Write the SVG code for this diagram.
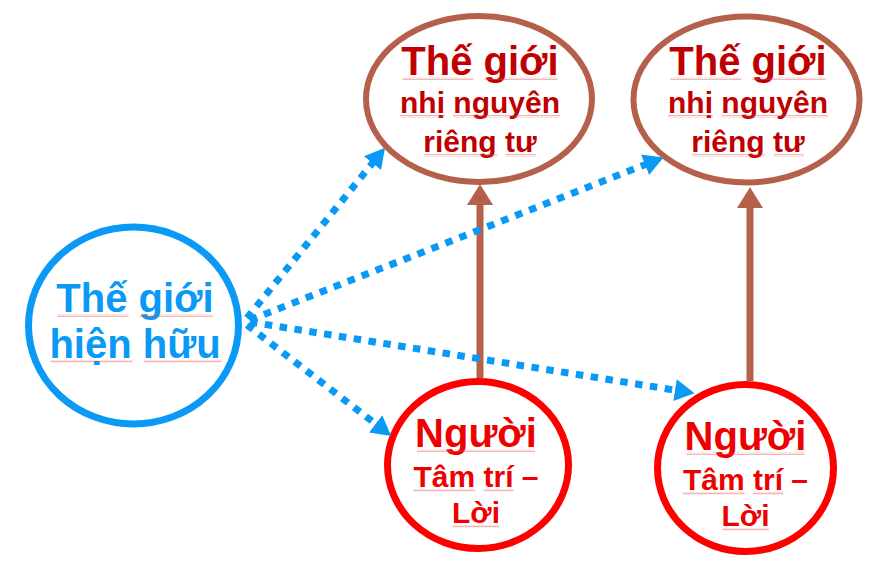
<svg xmlns="http://www.w3.org/2000/svg" width="875" height="577" viewBox="0 0 875 577">
<style>
.t{font-family:"Liberation Sans",Arial,sans-serif;font-weight:bold;text-anchor:middle}
.big{font-size:40px}
.sm{font-size:30px}
.blue{fill:#0A9AF5}
.dred{fill:#C00000}
.red{fill:#EE0000}
.sq{fill:url(#squig);opacity:0.75}
.dot{fill:none;stroke:#0A9AF5;stroke-width:7;stroke-dasharray:7.5 7.5;marker-end:url(#ah-blue)}
.solid{fill:none;stroke:#B5604B;stroke-width:7;marker-end:url(#ah-brown)}
</style>
<defs>
<pattern id="squig" patternUnits="userSpaceOnUse" width="4" height="3">
<path d="M0,2.4 L1,0.6 L2,2.4 L3,0.6 L4,2.4" fill="none" stroke="#E84848" stroke-width="0.55"/>
</pattern>
<marker id="ah-blue" markerUnits="userSpaceOnUse" markerWidth="20" markerHeight="22" refX="2" refY="10" orient="auto" viewBox="0 0 18 20">
<path d="M0,0 L18,10 L0,20 z" fill="#0A9AF5"/>
</marker>
<marker id="ah-brown" markerUnits="userSpaceOnUse" markerWidth="21" markerHeight="26" refX="1" refY="12.5" orient="auto" viewBox="0 0 20 25">
<path d="M0,0 L20,12.5 L0,25 z" fill="#B5604B"/>
</marker>
</defs>
<rect width="875" height="577" fill="#ffffff"/>

<g id="node-hien-huu">
<ellipse cx="133.5" cy="325.5" rx="105" ry="98.5" fill="#ffffff" stroke="#0A9AF5" stroke-width="7"/>
<text class="t big blue" x="135" y="312">Thế giới</text>
<text class="t big blue" x="135" y="358">hiện hữu</text>
<rect class="sq" x="57.4" y="314" width="71.1" height="3"/>
<rect class="sq" x="139.6" y="314" width="73.1" height="3"/>
<rect class="sq" x="50.3" y="360" width="82.2" height="3"/>
<rect class="sq" x="143.6" y="360" width="78" height="3"/>
</g>

<g id="node-nhi-nguyen-1">
<ellipse cx="479" cy="99" rx="113" ry="83" fill="#ffffff" stroke="#B5604B" stroke-width="6"/>
<text class="t big dred" x="480" y="75">Thế giới</text>
<text class="t sm dred" x="480" y="113">nhị nguyên</text>
<text class="t sm dred" x="480" y="152">riêng tư</text>
<rect class="sq" x="402.3" y="77" width="71.1" height="3"/>
<rect class="sq" x="484.5" y="77" width="73.1" height="3"/>
<rect class="sq" x="400" y="115" width="45" height="3"/>
<rect class="sq" x="453.3" y="115" width="106.7" height="3"/>
<rect class="sq" x="423.9" y="154" width="73.4" height="3"/>
<rect class="sq" x="505.6" y="154" width="30.4" height="3"/>
</g>

<g id="node-nhi-nguyen-2">
<ellipse cx="746.5" cy="99.5" rx="113" ry="83" fill="#ffffff" stroke="#B5604B" stroke-width="6"/>
<text class="t big dred" x="748" y="75">Thế giới</text>
<text class="t sm dred" x="748" y="113">nhị nguyên</text>
<text class="t sm dred" x="748" y="152">riêng tư</text>
<rect class="sq" x="670.3" y="77" width="71.1" height="3"/>
<rect class="sq" x="752.5" y="77" width="73.1" height="3"/>
<rect class="sq" x="668" y="115" width="45" height="3"/>
<rect class="sq" x="721.3" y="115" width="106.7" height="3"/>
<rect class="sq" x="691.9" y="154" width="73.4" height="3"/>
<rect class="sq" x="773.6" y="154" width="30.4" height="3"/>
</g>

<g id="node-nguoi-1">
<ellipse cx="478" cy="465" rx="90.5" ry="83.5" fill="#ffffff" stroke="#FF0000" stroke-width="7"/>
<text class="t big red" x="476" y="447">Người</text>
<text class="t sm red" x="476" y="487">Tâm trí –</text>
<text class="t sm red" x="476" y="523">Lời</text>
<rect class="sq" x="417" y="449" width="118" height="3"/>
<rect class="sq" x="413.5" y="489" width="61.7" height="3"/>
<rect class="sq" x="483.5" y="489" width="30" height="3"/>
<rect class="sq" x="452.8" y="525" width="46.5" height="3"/>
</g>

<g id="node-nguoi-2">
<ellipse cx="745.5" cy="468" rx="88" ry="83.5" fill="#ffffff" stroke="#FF0000" stroke-width="7"/>
<text class="t big red" x="745.5" y="450">Người</text>
<text class="t sm red" x="745.5" y="490">Tâm trí –</text>
<text class="t sm red" x="745.5" y="526">Lời</text>
<rect class="sq" x="686.5" y="452" width="118" height="3"/>
<rect class="sq" x="683" y="492" width="61.7" height="3"/>
<rect class="sq" x="753" y="492" width="30" height="3"/>
<rect class="sq" x="722.3" y="528" width="46.5" height="3"/>
</g>

<g id="connectors">
<path class="solid" d="M480,378 L480,204"/>
<path class="solid" d="M750,381 L750,207"/>
<path class="dot" d="M247,318 L373.9,161.4"/>
<path class="dot" d="M250,320 L647.1,163.9"/>
<path class="dot" d="M250,322 L677.2,390.5"/>
<path class="dot" d="M247,325 L377.3,425.2"/>
</g>
</svg>
